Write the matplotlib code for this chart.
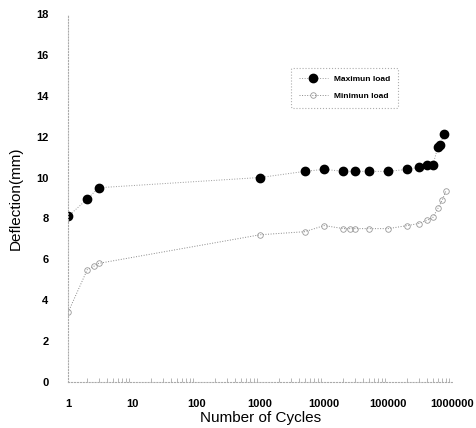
import matplotlib.pyplot as plt
import numpy as np

cycles_max = [1, 2, 3, 1000, 5000, 10000, 20000, 30000, 50000, 100000,
              200000, 300000, 400000, 500000, 600000, 650000, 750000]
defl_max = [8.1, 8.95, 9.5, 10.0, 10.3, 10.4, 10.3, 10.3, 10.3, 10.3,
            10.4, 10.5, 10.63, 10.63, 11.5, 11.6, 12.15]

cycles_min = [1, 2, 2.5, 3, 1000, 5000, 10000, 20000, 25000, 30000, 50000,
              100000, 200000, 300000, 400000, 500000, 600000, 700000, 800000]
defl_min = [3.4, 5.5, 5.65, 5.8, 7.2, 7.35, 7.65, 7.5, 7.5, 7.5, 7.5,
            7.5, 7.65, 7.75, 7.9, 8.05, 8.5, 8.9, 9.35]

xticks = [1, 10, 100, 1000, 10000, 100000, 1000000]
xticklabels = ['1', '10', '100', '1000', '10000', '100000', '1000000']
yticks = [0, 2, 4, 6, 8, 10, 12, 14, 16, 18]

plt.rcParams['font.family'] = ['Liberation Sans', 'DejaVu Sans']

fig = plt.figure(figsize=(4.76, 4.28), dpi=100)
ax = fig.add_axes([0.143, 0.1075, 0.807, 0.86])

ax.plot(cycles_max, defl_max, linestyle=':', color='#999999', lw=0.7,
        marker='o', markersize=6, markerfacecolor='black',
        markeredgecolor='black', label='Maximun load')
ax.plot(cycles_min, defl_min, linestyle=':', color='#888888', lw=0.7,
        marker='o', markersize=4, markerfacecolor='none',
        markeredgecolor='#999999', markeredgewidth=0.6, label='Minimun load')

ax.set_xscale('log')
ax.set_xlim(1, 1000000)
ax.set_ylim(0, 18)
ax.set_xticks(xticks)
ax.set_xticklabels(xticklabels, fontsize=8, fontweight='bold')
ax.set_yticks(yticks)
ax.set_yticklabels([str(v) for v in yticks], fontsize=8, fontweight='bold')
ax.tick_params(axis='x', which='major', length=0, pad=12)
ax.tick_params(axis='y', which='major', length=0, pad=14)
ax.tick_params(axis='x', which='minor', length=3, color='#aaaaaa', direction='in')
ax.tick_params(axis='y', which='minor', length=0)

for side in ['top', 'right']:
    ax.spines[side].set_visible(False)
for side in ['left', 'bottom']:
    ax.spines[side].set_linestyle(':')
    ax.spines[side].set_color('#aaaaaa')
    ax.spines[side].set_linewidth(0.8)

ax.set_xlabel('Number of Cycles', fontsize=11, labelpad=2)
ax.set_ylabel('Deflection(mm)', fontsize=11, labelpad=10)

leg = ax.legend(loc='upper right', bbox_to_anchor=(0.87, 0.865),
                prop={'weight': 'bold', 'size': 6}, frameon=True,
                fancybox=True, handlelength=3.5, borderpad=0.9,
                labelspacing=1.1)
leg.get_frame().set_linestyle(':')
leg.get_frame().set_edgecolor('#999999')
leg.get_frame().set_linewidth(0.8)

fig.savefig('out.png', dpi=100)
